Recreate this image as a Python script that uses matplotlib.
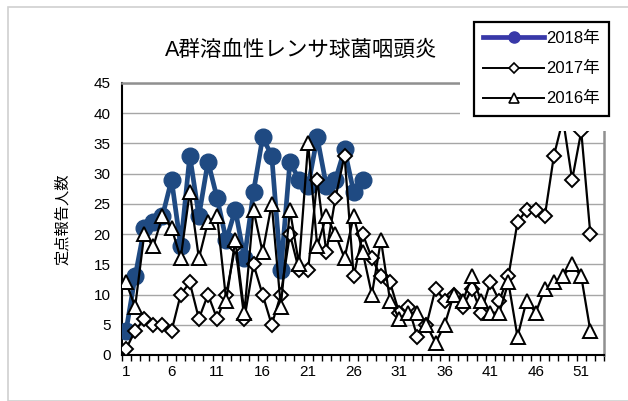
import matplotlib
matplotlib.use('Agg')

import numpy as np
from matplotlib import pyplot as plt
from matplotlib.patches import Rectangle
from matplotlib.lines import Line2D

plt.rcParams['font.family'] = ['Liberation Sans', 'Noto Sans CJK JP']

# weekly values
y2018 = [4, 13, 21, 22, 23, 29, 18, 33, 23, 32, 26, 19, 24, 16, 27, 36, 33, 14,
         32, 29, 28, 36, 28, 29, 34, 27, 29]
y2017 = [1, 4, 6, 5, 5, 4, 10, 12, 6, 10, 6, 10, 18, 6, 15, 10, 5, 10, 20, 14,
         14, 29, 17, 26, 33, 13, 20, 16, 13, 12, 7, 8, 3, 5, 11, 9, 10, 8, 11, 7,
         12, 9, 13, 22, 24, 24, 23, 33, 39, 29, 37, 20]
y2016 = [12, 8, 20, 18, 23, 21, 16, 27, 16, 22, 23, 9, 19, 7, 24, 17, 25, 8, 24, 15,
         35, 18, 23, 20, 16, 23, 17, 10, 19, 9, 6, 7, 7, 5, 2, 5, 10, 9, 13, 9,
         7, 7, 12, 3, 9, 7, 11, 12, 13, 15, 13, 4]
xlabels = ['1', '6', '11', '16', '21', '26', '31', '36', '41', '46', '51']
title = 'A群溶血性レンサ球菌咽頭炎'
ylabel = '定点報告人数'

W, H = 628, 401
fig = plt.figure(figsize=(W / 100, H / 100), dpi=100)
ax = fig.add_axes([121.5 / W, 46 / H, 482.5 / W, 272 / H])

blue = '#1f4a82'
x18 = np.arange(len(y2018)) + 1
x17 = np.arange(len(y2017)) + 1
x16 = np.arange(len(y2016)) + 1

ax.plot(x18, y2018, color=blue, lw=3.4, marker='o', ms=12, zorder=3)
ax.plot(x17, y2017, color='black', lw=1.6, marker='D', ms=7.5,
        mfc='white', mec='black', mew=1.4, zorder=4)
ax.plot(x16, y2016, color='black', lw=1.6, marker='^', ms=10,
        mfc='white', mec='black', mew=1.4, zorder=5)

ax.set_xlim(0.5, 53.5)
ax.set_ylim(0, 45)
ax.set_yticks(np.arange(0, 46, 5))
ax.yaxis.grid(True, color='#a6a6a6', lw=1)
ax.set_axisbelow(True)

ax.set_xticks([int(s) for s in xlabels])
ax.set_xticklabels(xlabels)
ax.set_xticks(np.arange(0.5, 54, 1), minor=True)
ax.tick_params(axis='x', which='major', length=0, pad=7, labelsize=11)
ax.tick_params(axis='x', which='minor', length=4, width=1, direction='out')
ax.tick_params(axis='y', length=0, pad=8, labelsize=11)

for s in ['left', 'bottom']:
    ax.spines[s].set_color('black')
    ax.spines[s].set_linewidth(1.5)
for s in ['top', 'right']:
    ax.spines[s].set_color('#909090')
    ax.spines[s].set_linewidth(1.8)

ax.set_ylabel(ylabel, fontsize=11, labelpad=17)
fig.text(301 / W, 1 - 50 / H, title, ha='center', va='center', fontsize=15.5)

# white area behind the legend, hides the lines that run up into it
cover = fig.add_axes([460 / W, 1 - 131 / H, 152 / W, 116 / H], zorder=5)
cover.set_facecolor('white')
cover.set_xticks([])
cover.set_yticks([])
for s in cover.spines.values():
    s.set_visible(False)

# outer chart border
fig.patches.append(Rectangle((8 / W, 0), 1, 1 - 7 / H,
                             transform=fig.transFigure, facecolor='none',
                             edgecolor='#d0d0d0', lw=1.2, zorder=1))

handles = [
    Line2D([], [], color='#3838a8', lw=3.4, marker='o', ms=8),
    Line2D([], [], color='black', lw=1.4, marker='D', ms=5.5, mfc='white', mew=1.2),
    Line2D([], [], color='black', lw=1.4, marker='^', ms=7, mfc='white', mew=1.2),
]
leg = fig.legend(handles, ['2018年', '2017年', '2016年'], loc='upper right',
                 bbox_to_anchor=(609 / W, 1 - 22 / H), fontsize=12,
                 frameon=True, fancybox=False, framealpha=1, edgecolor='black',
                 handlelength=3.7, handletextpad=0.1, labelspacing=0.9,
                 borderpad=0.55, borderaxespad=0)
leg.get_frame().set_linewidth(1.6)
leg.set_zorder(20)

plt.savefig('out.png', dpi=100)
